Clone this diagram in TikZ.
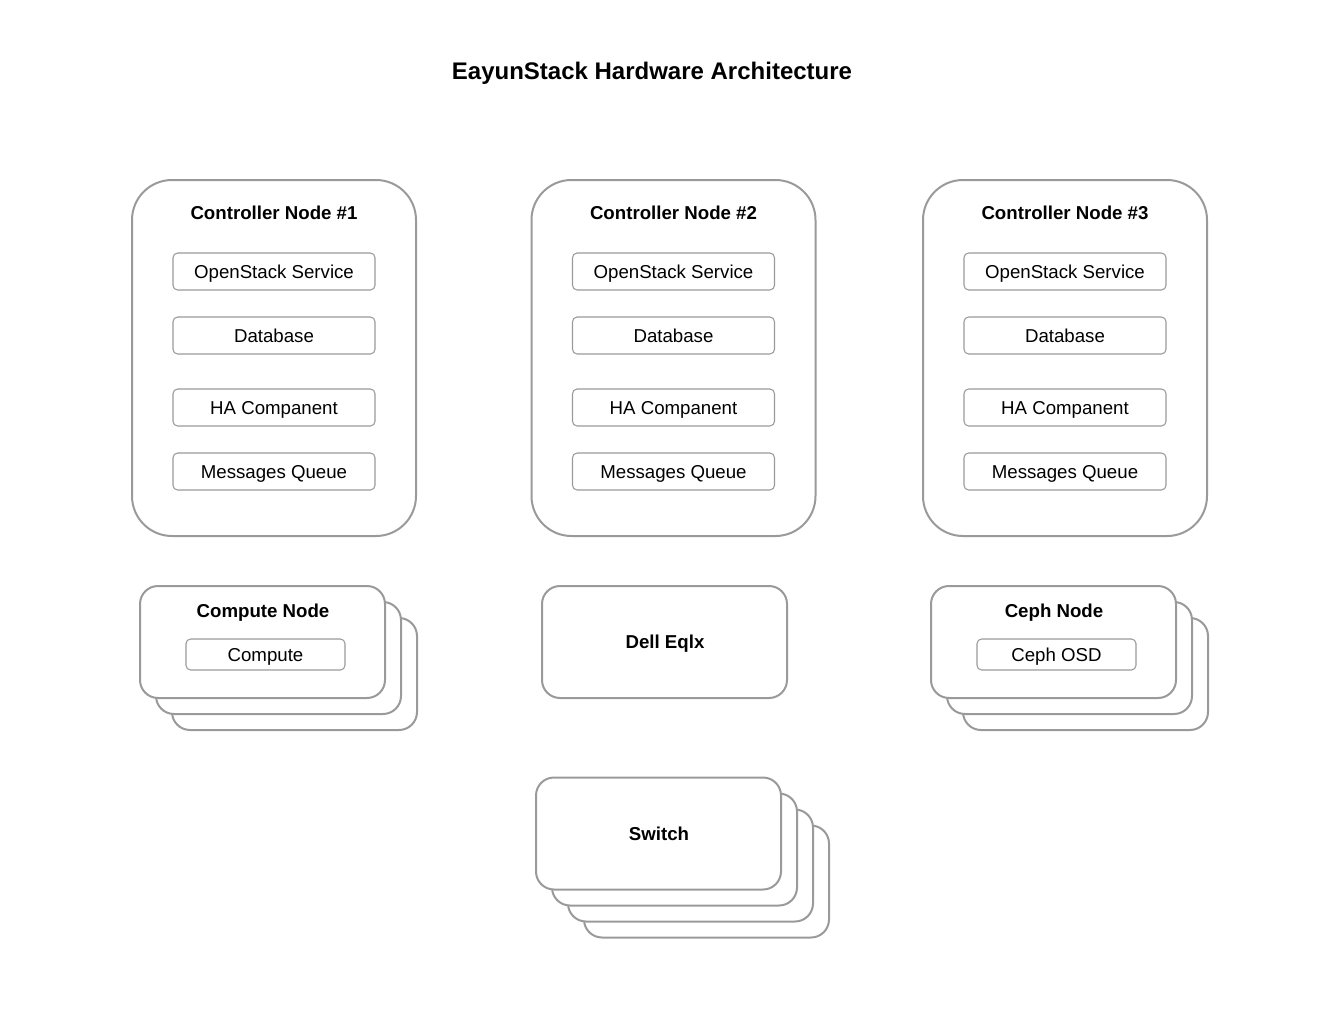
\documentclass[tikz,border=0pt]{standalone}
\usepackage{fontspec}
\setmainfont{Liberation Sans}
\definecolor{edge}{HTML}{9A9A9A}
\begin{document}
\begin{tikzpicture}[x=0.75pt,y=-0.75pt,
  ctrl/.style={draw=edge,line width=1.5pt,rounded corners=30pt,minimum width=213pt,minimum height=267pt,inner sep=0pt},
  item/.style={draw=edge,line width=0.8pt,rounded corners=3.5pt,minimum width=151.5pt,minimum height=27.75pt,inner sep=0pt,text height=10pt,text depth=0pt,font=\fontsize{14}{16}\selectfont},
  smallitem/.style={item,minimum width=119.25pt,minimum height=23.25pt},
  card/.style={draw=edge,fill=white,line width=1.5pt,rounded corners=13.5pt,minimum width=183.75pt,minimum height=84pt,inner sep=0pt},
  head/.style={font=\fontsize{14}{16}\selectfont\bfseries,inner sep=0pt,text height=10pt,text depth=0pt},
  ttl/.style={font=\fontsize{18}{22}\selectfont\bfseries,inner sep=0pt,text height=13pt,text depth=0pt}]
\useasboundingbox (0,0) rectangle (1342,1035);
\node[ttl] (title) at (652,71) {EayunStack Hardware Architecture};
% controllers
\foreach \i/\x in {1/274,2/673.5,3/1065}{
  \node[ctrl] (c\i) at (\x,358) {};
  \node[head] (c\i h) at (\x,213) {Controller Node \#\i};
  \node[item] (c\i a) at (\x,271.5) {OpenStack Service};
  \node[item] (c\i b) at (\x,335.5) {Database};
  \node[item] (c\i c) at (\x,407.5) {HA Companent};
  \node[item] (c\i d) at (\x,471.5) {Messages Queue};
}
% compute stack
\node[card] (cp3) at (294.5,674) {};
\node[card] (cp2) at (278.5,658) {};
\node[card] (cp1) at (262.5,642) {};
\node[head] (cph) at (263,611) {Compute Node};
\node[smallitem] (cpi) at (265.5,654.5) {Compute};
% dell
\node[card] (dell) at (664.5,642) {};
\node[head] (dellh) at (665,642) {Dell Eqlx};
% ceph stack
\node[card] (ce3) at (1085.5,674) {};
\node[card] (ce2) at (1069.5,658) {};
\node[card] (ce1) at (1053.5,642) {};
\node[head] (ceh) at (1054,611) {Ceph Node};
\node[smallitem] (cei) at (1056.5,654.5) {Ceph OSD};
% switch stack
\node[card] (sw4) at (706.5,881.5) {};
\node[card] (sw3) at (690.5,865.5) {};
\node[card] (sw2) at (674.5,849.5) {};
\node[card] (sw1) at (658.5,833.5) {};
\node[head] (swh) at (659,834) {Switch};
\end{tikzpicture}
\end{document}
